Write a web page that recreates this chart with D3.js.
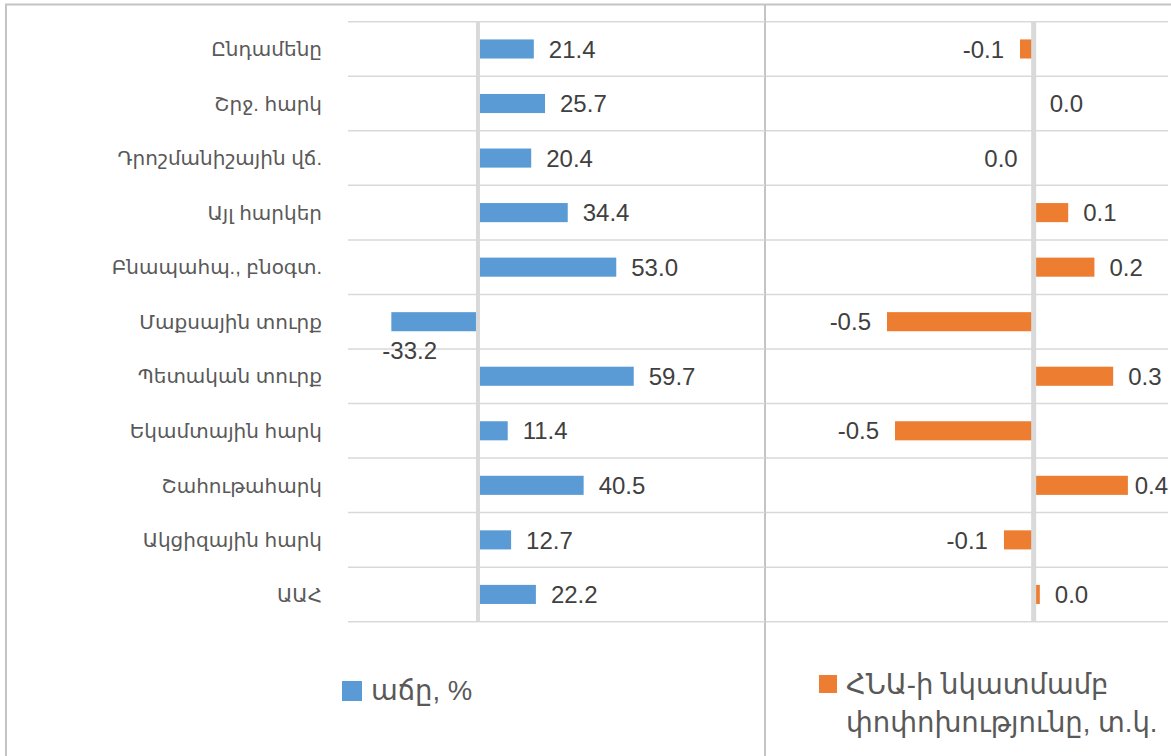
<!DOCTYPE html>
<html>
<head>
<meta charset="utf-8">
<script src="https://cdn.jsdelivr.net/npm/d3@7"></script>
<style>
  html, body { margin: 0; padding: 0; background: #ffffff; }
  svg { display: block; }
  text { font-family: "Liberation Sans", Arial, "DejaVu Sans", sans-serif; }
</style>
</head>
<body>
<svg id="chart" width="1171" height="756"></svg>
<script>
// ---- data ----
const categories = [
  "Ընդամենը",
  "Շրջ. հարկ",
  "Դրոշմանիշային վճ.",
  "Այլ հարկեր",
  "Բնապահպ., բնօգտ.",
  "Մաքսային տուրք",
  "Պետական տուրք",
  "Եկամտային հարկ",
  "Շահութահարկ",
  "Ակցիզային հարկ",
  "ԱԱՀ"
];
const growthValues = [21.4, 25.7, 20.4, 34.4, 53.0, -33.2, 59.7, 11.4, 40.5, 12.7, 22.2];
const gdpShareChange = [-0.051, 0.004, 0.0, 0.129, 0.227, -0.548, 0.297, -0.518, 0.352, -0.111, 0.023];
const seriesNames = ["աճը, %", ["ՀՆԱ-ի նկատմամբ", "փոփոխությունը, տ.կ."]];

// ---- styles ----
const blue = "#5B9BD5", orange = "#ED7D31";
const gridColor = "#d9d9d9", borderColor = "#c4c4c4";
const valueColor = "#404040", catColor = "#595959";
const locale = d3.formatLocale({ decimal: ".", thousands: ",", grouping: [3], currency: ["", ""], minus: "-" });
const fmt = locale.format(".1f");

const svg = d3.select("#chart");
const W = 1171, H = 756;

// panel borders
svg.append("line").attr("x1", 5).attr("x2", W).attr("y1", 4.5).attr("y2", 4.5)
  .attr("stroke", borderColor).attr("stroke-width", 2);
svg.append("line").attr("x1", 6).attr("x2", 6).attr("y1", 4).attr("y2", H)
  .attr("stroke", borderColor).attr("stroke-width", 2);
svg.append("line").attr("x1", 765).attr("x2", 765).attr("y1", 4).attr("y2", H)
  .attr("stroke", borderColor).attr("stroke-width", 2);

const y = d3.scaleBand().domain(categories).range([21.7, 621.7]).padding(0);
const barH = y.bandwidth() * 0.35;

function panel(opts) {
  const { x, values, color, gridX0, gridX1, zeroW, rightLimit, negBelow } = opts;
  const g = svg.append("g");
  const bounds = categories.map(c => y(c)).concat([y(categories[categories.length - 1]) + y.bandwidth()]);
  g.selectAll("line.grid").data(bounds).join("line")
    .attr("x1", gridX0).attr("x2", gridX1)
    .attr("y1", d => d).attr("y2", d => d)
    .attr("stroke", gridColor).attr("stroke-width", 1.5);
  g.selectAll("rect.bar").data(values).join("rect")
    .attr("x", d => Math.min(x(0), x(d)))
    .attr("width", d => Math.abs(x(d) - x(0)))
    .attr("y", (d, i) => y(categories[i]) + (y.bandwidth() - barH) / 2)
    .attr("height", barH)
    .attr("fill", color);
  g.append("line")
    .attr("x1", x(0)).attr("x2", x(0))
    .attr("y1", y.range()[0]).attr("y2", y.range()[1])
    .attr("stroke", gridColor).attr("stroke-width", zeroW);
  const labels = g.selectAll("text.val").data(values).join("text")
    .attr("font-size", 24)
    .attr("fill", valueColor)
    .text(d => fmt(d));
  labels.each(function (d, i) {
    const t = d3.select(this);
    const cy = y(categories[i]) + y.bandwidth() / 2;
    if (d > 0) {
      let xs = x(d) + 15;
      const w = this.getComputedTextLength();
      if (xs + w > rightLimit) xs = rightLimit - w;
      t.attr("x", xs).attr("y", cy).attr("dy", "0.36em").attr("text-anchor", "start");
    } else if (d < 0 && negBelow) {
      t.attr("x", x(d) - 9).attr("y", cy + 29).attr("dy", "0.36em").attr("text-anchor", "start");
    } else {
      t.attr("x", x(d) - 16).attr("y", cy).attr("dy", "0.36em").attr("text-anchor", "end");
    }
  });
  return g;
}

// left panel: growth, %
const xL = d3.scaleLinear().domain([-50, 110]).range([347.5, 765]);
panel({ x: xL, values: growthValues, color: blue, gridX0: 348, gridX1: 765, zeroW: 4, rightLimit: 760, negBelow: true });

// category labels
svg.append("g").selectAll("text").data(categories).join("text")
  .attr("x", 322)
  .attr("y", d => y(d) + y.bandwidth() / 2)
  .attr("dy", "0.36em")
  .attr("text-anchor", "end")
  .attr("font-size", 20)
  .attr("fill", catColor)
  .text(d => d);

// right panel: change relative to GDP, p.p.
const xR = d3.scaleLinear().domain([-1, 0.5]).range([766, 1167.5]);
panel({ x: xR, values: gdpShareChange, color: orange, gridX0: 766, gridX1: 1168, zeroW: 5, rightLimit: 1168, negBelow: false });

// legends
const lg1 = svg.append("g");
lg1.append("rect").attr("x", 342).attr("y", 681).attr("width", 20).attr("height", 20).attr("fill", blue);
lg1.append("text").attr("x", 371).attr("y", 700).attr("font-size", 27.5).attr("fill", catColor).text(seriesNames[0]);

const lg2 = svg.append("g");
lg2.append("rect").attr("x", 819).attr("y", 675).attr("width", 18).attr("height", 18).attr("fill", orange);
lg2.append("text").attr("x", 846).attr("y", 694).attr("font-size", 27.5).attr("fill", catColor).text(seriesNames[1][0]);
lg2.append("text").attr("x", 846).attr("y", 732).attr("font-size", 27.5).attr("fill", catColor).text(seriesNames[1][1]);
</script>
</body>
</html>
